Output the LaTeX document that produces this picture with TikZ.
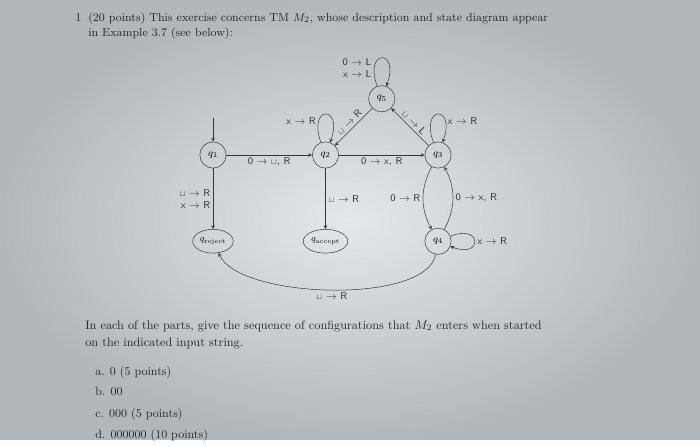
\documentclass[tikz,border=0pt]{standalone}
\usepackage{amsmath}
\usepackage{xcolor}
\usepackage{tikz}
\usetikzlibrary{shapes, arrows, positioning}

\definecolor{bgin}{HTML}{E3E8EC}
\definecolor{bgout}{HTML}{B2B7BB}
\definecolor{ink}{HTML}{34373A}

\newcommand{\blank}{\ensuremath{\scriptstyle\sqcup}}
\newcommand{\mv}{\ensuremath{\rightarrow}}

\begin{document}
\begin{tikzpicture}[
        x=0.8pt, y=-0.8pt,
        node distance=90pt, on grid,
        state/.style={circle, draw=ink, thin, minimum size=21pt, inner sep=0pt, font=\footnotesize},
        halt/.style={ellipse, draw=ink, thin, minimum width=30pt, minimum height=19pt, inner sep=1pt, font=\scriptsize},
        arrow/.style={->, >=stealth, thin, color=ink},
        selfloop/.style={out=110, in=70, min distance=32pt, looseness=8},
        lbl/.style={font=\sffamily\footnotesize, color=ink, inner sep=2pt},
        txt/.style={anchor=base west, inner sep=0pt, color=black!85}
    ]

    % --- Background (photographed page) ---
    \shade[inner color=bgin, outer color=bgout] (0,0) rectangle (700,440);
    \fill[white!92!bgin] (0,440) rectangle (700,446);
    \useasboundingbox (0,0) rectangle (700,446);

    % --- Question text ---
    \node[txt, font=\fontsize{9.3}{11}\selectfont] (num) at (75,21) {1};
    \node[txt, font=\fontsize{9.3}{11}\selectfont] (head1) at (88,21) {(20 points) This exercise concerns TM $M_2$, whose description and state diagram appear};
    \node[txt, font=\fontsize{9.3}{11}\selectfont] (head2) at (88,36) {in Example 3.7 (see below):};

    % --- States ---
    \node[state] (q1) at (213,155) {$q_1$};
    \node[state, right=90pt of q1] (q2) {$q_2$};
    \node[state, right=90pt of q2] (q3) {$q_3$};
    \node[state, above right=45pt and 45pt of q2] (q5) {$q_5$};
    \node[halt, below=69pt of q1] (qrej) {$q_{\text{reject}}$};
    \node[halt, below=69pt of q2] (qacc) {$q_{\text{accept}}$};
    \node[state, below=69pt of q3] (q4) {$q_4$};
    \coordinate[above=30pt of q1] (start);

    % --- Transitions ---
    \draw[arrow] (start) -- (q1);
    \draw[arrow] (q1) -- node[lbl, below] {0 \mv\ \blank, R} (q2);
    \draw[arrow] (q2) -- node[lbl, below] {0 \mv\ x, R} (q3);
    \draw[arrow] (q1) -- node[lbl, left, align=right] {\blank\ \mv\ R\\x \mv\ R} (qrej);
    \draw[arrow] (q2) -- node[lbl, right] {\blank\ \mv\ R} (qacc);
    \draw[arrow] (q5) -- node[lbl, sloped, above, pos=0.5] {\blank\ \mv\ R} (q2);
    \draw[arrow] (q3) -- node[lbl, sloped, above, pos=0.5] {\blank\ \mv\ L} (q5);
    \draw[arrow] (q3) to[bend right=28] node[lbl, left] {0 \mv\ R} (q4);
    \draw[arrow] (q4) to[bend right=28] node[lbl, right] {0 \mv\ x, R} (q3);
    \draw[arrow] (q4) to[out=-100, in=-65, looseness=0.6] node[lbl, below] {\blank\ \mv\ R} (qrej);

    % --- Self loops ---
    \draw[arrow] (q2) to[selfloop] node[lbl, left, pos=0.25] {x \mv\ R} (q2);
    \draw[arrow] (q5) to[selfloop] node[lbl, left, align=right, pos=0.2] {0 \mv\ L\\x \mv\ L} (q5);
    \draw[arrow] (q3) to[selfloop] node[lbl, right, pos=0.75] {x \mv\ R} (q3);
    \draw[arrow] (q4) to[out=22, in=-22, min distance=28pt, looseness=8] node[lbl, right] {x \mv\ R} (q4);

    % --- Parts ---
    \node[txt, font=\fontsize{9.8}{12}\selectfont] (task1) at (85,329) {In each of the parts, give the sequence of configurations that $M_2$ enters when started};
    \node[txt, font=\fontsize{9.8}{12}\selectfont] (task2) at (85,346) {on the indicated input string.};
    \node[txt, font=\fontsize{9.6}{12}\selectfont] (parta) at (95,375) {a. 0 (5 points)};
    \node[txt, font=\fontsize{9.6}{12}\selectfont] (partb) at (95,395) {b. 00};
    \node[txt, font=\fontsize{9.6}{12}\selectfont] (partc) at (95,417) {c. 000 (5 points)};
    \node[txt, font=\fontsize{9.6}{12}\selectfont] (partd) at (95,438) {d. 000000 (10 points)};

\end{tikzpicture}
\end{document}
